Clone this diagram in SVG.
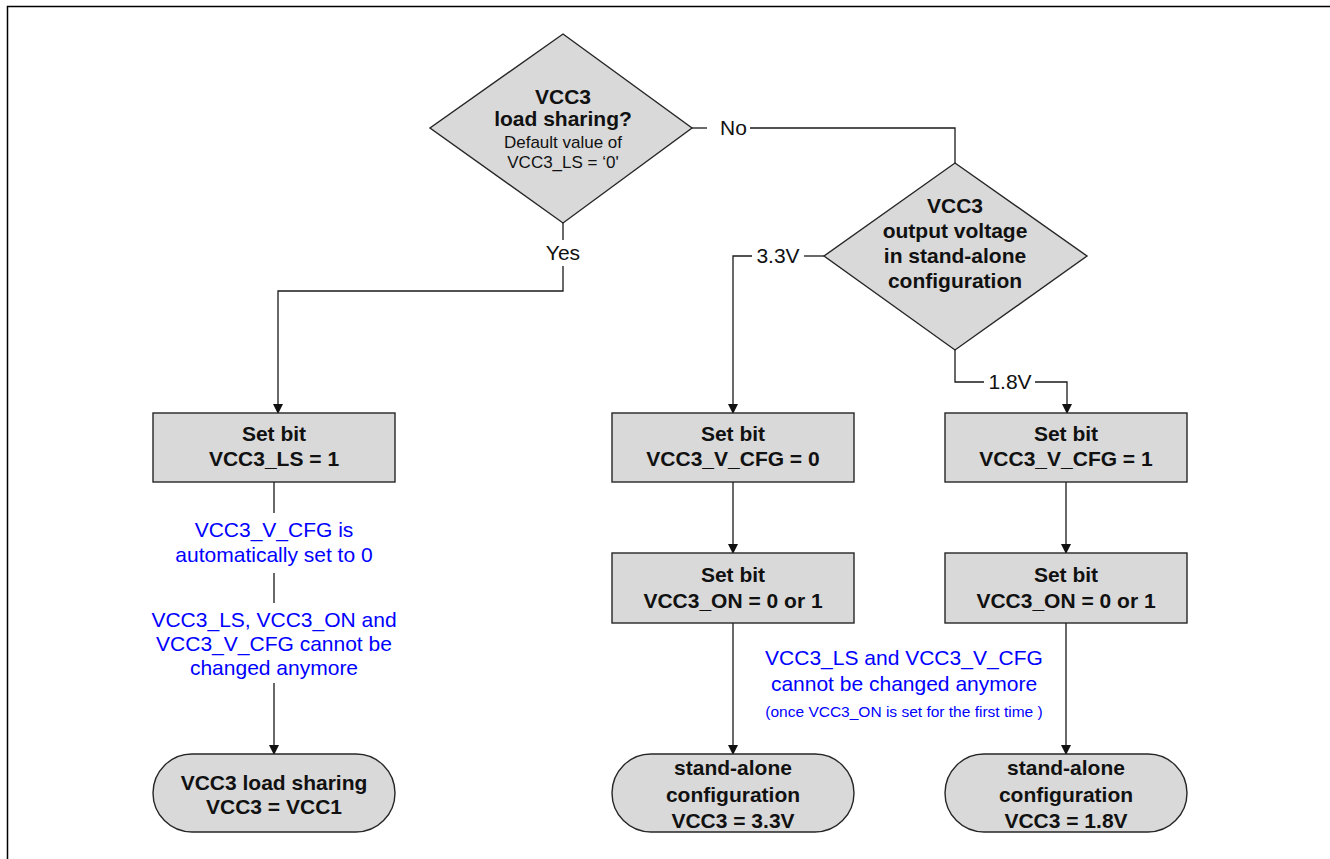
<svg xmlns="http://www.w3.org/2000/svg" width="1330" height="859" viewBox="0 0 1330 859">
<style>
.node{fill:#d9d9d9;stroke:#262626;stroke-width:1.4}
.b{font-family:"Liberation Sans",Arial,sans-serif;font-weight:bold;font-size:21px;fill:#111;text-anchor:middle}
.r{font-family:"Liberation Sans",Arial,sans-serif;font-size:17px;fill:#111;text-anchor:middle}
.lbl{font-family:"Liberation Sans",Arial,sans-serif;font-size:21px;fill:#111;text-anchor:middle}
.blue{font-family:"Liberation Sans",Arial,sans-serif;font-size:21px;fill:#0000ff;text-anchor:middle}
.bsm{font-family:"Liberation Sans",Arial,sans-serif;font-size:15.5px;fill:#0000ff;text-anchor:middle}
.c{fill:none;stroke:#1a1a1a;stroke-width:1.3}
</style>
<defs>
<marker id="ah" markerWidth="10" markerHeight="12" refX="9" refY="5" orient="auto" markerUnits="userSpaceOnUse">
<path d="M0,0 L10,5 L0,10 Z" fill="#111"/>
</marker>
</defs>
<rect width="1330" height="859" fill="#fff"/>
<path d="M7.5,859 V6.5 H1330" fill="none" stroke="#000" stroke-width="1.5"/>

<g id="connectors">
<path class="c" d="M692,128 H707"/>
<path class="c" d="M750,128 H955 V163"/>
<path class="c" d="M563,223 V240"/>
<path class="c" d="M563,266 V291 H278 V413" marker-end="url(#ah)"/>
<path class="c" d="M824,256 H804"/>
<path class="c" d="M752,256 H733 V413" marker-end="url(#ah)"/>
<path class="c" d="M955,350 V382 H984"/>
<path class="c" d="M1035,382 H1067 V413" marker-end="url(#ah)"/>
<path class="c" d="M274,482 V513"/>
<path class="c" d="M274,573 V603"/>
<path class="c" d="M274,683 V754" marker-end="url(#ah)"/>
<path class="c" d="M733,482 V553" marker-end="url(#ah)"/>
<path class="c" d="M733,623 V754" marker-end="url(#ah)"/>
<path class="c" d="M1066,482 V553" marker-end="url(#ah)"/>
<path class="c" d="M1066,623 V754" marker-end="url(#ah)"/>
<text class="lbl" x="733.5" y="135">No</text>
<text class="lbl" x="563" y="260">Yes</text>
<text class="lbl" x="778" y="263">3.3V</text>
<text class="lbl" x="1010" y="389">1.8V</text>
<text class="blue" x="274" y="537">VCC3_V_CFG is</text>
<text class="blue" x="274" y="562">automatically set to 0</text>
<text class="blue" x="274" y="627">VCC3_LS, VCC3_ON and</text>
<text class="blue" x="274" y="651">VCC3_V_CFG cannot be</text>
<text class="blue" x="274" y="675">changed anymore</text>
<text class="blue" x="904" y="665">VCC3_LS and VCC3_V_CFG</text>
<text class="blue" x="904" y="691">cannot be changed anymore</text>
<text class="bsm" x="904" y="717">(once VCC3_ON is set for the first time )</text>
</g>

<g id="d1">
<polygon class="node" points="563,34 692,128 563,223 430,128"/>
<text class="b" x="563" y="104">VCC3</text>
<text class="b" x="563" y="126">load sharing?</text>
<text class="r" x="563" y="148">Default value of</text>
<text class="r" x="563" y="168">VCC3_LS = ‘0'</text>
</g>

<g id="d2">
<polygon class="node" points="955,163 1087,256 955,350 824,256"/>
<text class="b" x="955" y="213">VCC3</text>
<text class="b" x="955" y="238">output voltage</text>
<text class="b" x="955" y="263">in stand-alone</text>
<text class="b" x="955" y="288">configuration</text>
</g>

<g id="b1">
<rect class="node" x="153" y="413" width="242" height="69"/>
<text class="b" x="274" y="441">Set bit</text>
<text class="b" x="274" y="466">VCC3_LS = 1</text>
</g>

<g id="b2">
<rect class="node" x="612" y="413" width="242" height="69"/>
<text class="b" x="733" y="441">Set bit</text>
<text class="b" x="733" y="466">VCC3_V_CFG = 0</text>
</g>

<g id="b3">
<rect class="node" x="945" y="413" width="242" height="69"/>
<text class="b" x="1066" y="441">Set bit</text>
<text class="b" x="1066" y="466">VCC3_V_CFG = 1</text>
</g>

<g id="b4">
<rect class="node" x="612" y="553" width="242" height="70"/>
<text class="b" x="733" y="582">Set bit</text>
<text class="b" x="733" y="608">VCC3_ON = 0 or 1</text>
</g>

<g id="b5">
<rect class="node" x="945" y="553" width="242" height="70"/>
<text class="b" x="1066" y="582">Set bit</text>
<text class="b" x="1066" y="608">VCC3_ON = 0 or 1</text>
</g>

<g id="t1">
<rect class="node" x="153" y="754" width="242" height="78" rx="39" ry="39"/>
<text class="b" x="274" y="790">VCC3 load sharing</text>
<text class="b" x="274" y="814">VCC3 = VCC1</text>
</g>

<g id="t2">
<rect class="node" x="612" y="754" width="242" height="78" rx="39" ry="39"/>
<text class="b" x="733" y="775">stand-alone</text>
<text class="b" x="733" y="802">configuration</text>
<text class="b" x="733" y="828">VCC3 = 3.3V</text>
</g>

<g id="t3">
<rect class="node" x="945" y="754" width="242" height="78" rx="39" ry="39"/>
<text class="b" x="1066" y="775">stand-alone</text>
<text class="b" x="1066" y="802">configuration</text>
<text class="b" x="1066" y="828">VCC3 = 1.8V</text>
</g>
</svg>
